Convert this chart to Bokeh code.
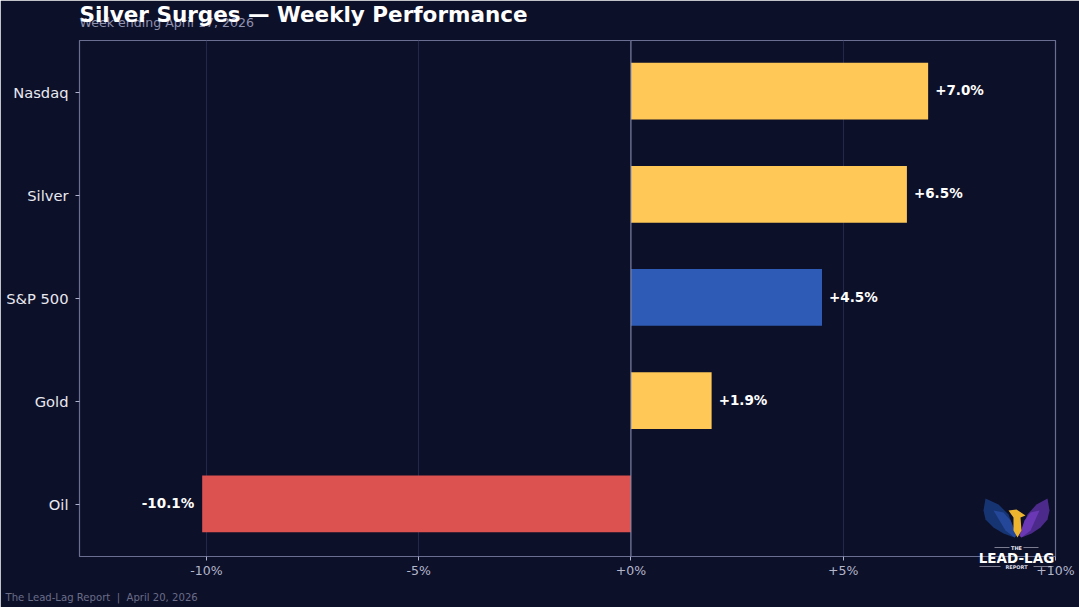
from bokeh.embed import file_html
from bokeh.resources import INLINE
from bokeh.layouts import column
from bokeh.plotting import figure
from bokeh.models import FixedTicker, ColumnDataSource, Span, Range1d
from bokeh.core.properties import value
from bokeh.transform import dodge

categories = ["Oil", "Gold", "S&P 500", "Silver", "Nasdaq"]
changes = [-10.1, 1.9, 4.5, 6.5, 7.0]
labels = ["-10.1%", "+1.9%", "+4.5%", "+6.5%", "+7.0%"]
colors = ["#DC5250", "#FFC857", "#2E5BB5", "#FFC857", "#FFC857"]
tick_values = [-10, -5, 0, 5, 10]
tick_labels = ["-10%", "-5%", "+0%", "+5%", "+10%"]

BG = "#0D1029"
FONT = "DejaVu Sans"

p = figure(width=1079, height=607, output_backend="svg", toolbar_location=None,
           y_range=categories, x_range=(-12.99, 10.0),
           background_fill_color=BG, border_fill_color=BG,
           min_border_left=79, min_border_right=24, min_border_top=40, min_border_bottom=51,
           frame_width=976, frame_height=516)

p.outline_line_color = "#6A6E90"
p.outline_line_width = 1.2

p.xaxis.ticker = FixedTicker(ticks=tick_values)
p.xaxis.major_label_overrides = dict(zip(tick_values, tick_labels))
p.xaxis.major_label_text_color = "#B4B7CC"
p.xaxis.major_label_text_font = FONT
p.xaxis.major_label_text_font_size = "12.5px"
p.xaxis.major_label_standoff = 2
p.xaxis.axis_line_color = None
p.xaxis.major_tick_line_color = "#AEB2CC"
p.xaxis.major_tick_out = 4
p.xaxis.major_tick_in = 0
p.xaxis.minor_tick_line_color = None

p.yaxis.major_label_text_color = "#E8E8F0"
p.yaxis.major_label_text_font = FONT
p.yaxis.major_label_text_font_size = "14.7px"
p.yaxis.major_label_standoff = 7
p.yaxis.axis_line_color = None
p.yaxis.major_tick_line_color = "#AEB2CC"
p.yaxis.major_tick_out = 4
p.yaxis.major_tick_in = 0

p.xgrid.ticker = FixedTicker(ticks=tick_values)
p.xgrid.grid_line_color = "#23274A"
p.xgrid.grid_line_width = 1
p.ygrid.grid_line_color = None

source = ColumnDataSource(dict(cat=categories, val=changes, lab=labels, col=colors,
                               zero=[0] * len(categories)))
p.hbar(y=dodge("cat", 0.01, range=p.y_range), left="zero", right="val", height=0.55,
       fill_color="col", line_color=None, source=source)
p.add_layout(Span(location=0, dimension="height", line_color="#8C90AC", line_width=1))

pos = ColumnDataSource(dict(cat=categories[1:], val=changes[1:], lab=labels[1:]))
neg = ColumnDataSource(dict(cat=categories[:1], val=changes[:1], lab=labels[:1]))
common = dict(text="lab", text_color="#FFFFFF", text_font=value(FONT), text_font_style="bold",
              text_font_size="13.5px", text_baseline="middle", y_offset=-2)
p.text(x="val", y="cat", source=pos, x_offset=7, text_align="left", **common)
p.text(x="val", y="cat", source=neg, x_offset=-8, text_align="right", **common)

# transparent pixel-space layer above the chart: title, footer and logo
o = figure(width=1079, height=607, output_backend="svg", toolbar_location=None,
           x_range=Range1d(0, 1079), y_range=Range1d(607, 0),
           background_fill_color=None, border_fill_color=None, outline_line_color=None,
           min_border=0, x_axis_location=None, y_axis_location=None)
o.grid.visible = False


def put(x, y, text, size, color, style="normal", align="left"):
    o.text([x], [y], text=[text], text_font=value(FONT), text_font_size=size, text_color=color,
           text_font_style=style, text_align=align, text_baseline="middle")


put(79, 22, "Week ending April 17, 2026", "12.6px", "#8F92B0")
put(79, 14, "Silver Surges — Weekly Performance", "21.5px", "#FFFFFF", "bold")
put(5, 597, "The Lead-Lag Report\u00a0\u00a0|\u00a0\u00a0April 20, 2026", "10.1px", "#6A6D88")

left_wing = ([985, 998, 1008, 1016, 1014, 1003, 993, 985, 983], [498, 504, 514, 535, 537, 533, 527, 519, 510])
left_inner = ([993, 1003, 1010, 1016, 1014, 1005], [510, 512, 520, 535, 537, 530])
right_wing = ([1047, 1036, 1027, 1019, 1021, 1031, 1040, 1047, 1049], [498, 504, 514, 535, 537, 533, 527, 519, 510])
right_inner = ([1039, 1030, 1024, 1019, 1021, 1030], [510, 512, 520, 535, 537, 530])
bird = ([1008, 1016, 1025, 1020, 1021, 1017, 1013, 1013], [510, 509, 515, 517, 530, 537, 530, 517])
shapes = ((left_wing, "#173472"), (left_inner, "#24479A"), (right_wing, "#4C2A8C"), (right_inner, "#6A38B4"), (bird, "#EDB52F"))
for shape, fill in shapes:
    o.patch(shape[0], shape[1], fill_color=fill, line_color=None)

for x0, x1, y in ((994, 1009, 547), (1023, 1038, 547), (979, 1000, 566), (1033, 1053, 566)):
    o.line([x0, x1], [y, y], line_color="#C8C8D8", line_width=0.6)

put(1016, 547, "THE", "5px", "#E8E8F0", "bold", "center")
put(1016, 557, "LEAD-LAG", "13.5px", "#FFFFFF", "bold", "center")
put(1016, 566, "REPORT", "5px", "#D8D8E4", "bold", "center")

layer = column(o, styles={"position": "absolute", "left": "0px", "top": "0px"})
open("out.html", "w").write(file_html(column(column(p), layer), INLINE))
